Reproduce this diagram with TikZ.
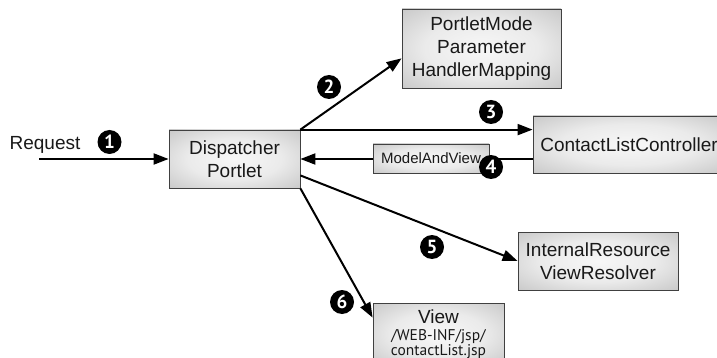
\documentclass[tikz,border=0pt]{standalone}
\usepackage{fontspec}
\setmainfont{Liberation Sans}
\newfontfamily\pathfont{PT Sans}
\usetikzlibrary{arrows.meta,calc}
\pgfdeclareradialshading{boxshade}{\pgfpoint{0bp}{0bp}}{color(0bp)=(black!3); color(18bp)=(black!8); color(50bp)=(black!32); color(72bp)=(black!42)}

\begin{document}
\begin{tikzpicture}[x=1pt,y=-1pt,
		box/.style={draw=black!75, line width=0.8pt, shading=boxshade, align=center, inner sep=0pt, text=black!90, font=\fontsize{19}{23}\selectfont},
		numdot/.style={circle, fill=black, inner sep=0pt, minimum size=24pt, text=white, font=\pathfont\bfseries\fontsize{19}{19}\selectfont},
		flow/.style={line width=2pt, -{Triangle[length=15pt,width=11pt]}}]
				\useasboundingbox (0,0) rectangle (717,358);
				\clip (0,0) rectangle (717,358);
				
				\node[font=\fontsize{19}{23}\selectfont, text=black!90] (req) at (45,145) {Request};
				\coordinate (start) at (39,159);
				
				\node[box, minimum width=131pt, minimum height=58pt] (disp) at (234.5,159) {Dispatcher\\Portlet};
				\node[box, minimum width=159pt, minimum height=79pt] (pm) at (481.5,48.5) {PortletMode\\Parameter\\HandlerMapping};
				\node[box, minimum width=192pt, minimum height=57pt] (cc) at (629,144.5) {ContactListController};
				\node[box, minimum width=160pt, minimum height=58pt] (ir) at (598,261) {InternalResource\\ViewResolver};
				\node[box, minimum width=131pt, minimum height=62pt] (view) at (438.5,334) {View\\[-6pt]{\pathfont\fontsize{15.5}{16}\selectfont /WEB-INF/jsp/}\\[-8pt]{\pathfont\fontsize{15.5}{16}\selectfont contactList.jsp}};
				
				\draw[flow] (start) -- (disp.west);
				\draw[flow] (disp.north east) -- (pm.187);
				\draw[flow] (disp.north east) -- (disp.north east -| cc.west);
				\draw[flow] (disp.east -| cc.west) -- (disp.east);
				\draw[flow] (disp.-14) -- (ir.west);
				\draw[flow] (disp.south east) -- ($(view.north west)+(0,15)$);
				
				\node[box, font=\fontsize{15}{18}\selectfont, minimum width=116pt, minimum height=29pt] (mv) at (431,158.5) {ModelAndView};
				
				\node[numdot] (n1) at (109.5,142) {1};
				\node[numdot] (n2) at (329,87) {2};
				\node[numdot] (n3) at (491,112) {3};
				\node[numdot] (n4) at (491,167) {4};
				\node[numdot] (n5) at (432,247) {5};
				\node[numdot] (n6) at (342,302) {6};
			\end{tikzpicture}
\end{document}
